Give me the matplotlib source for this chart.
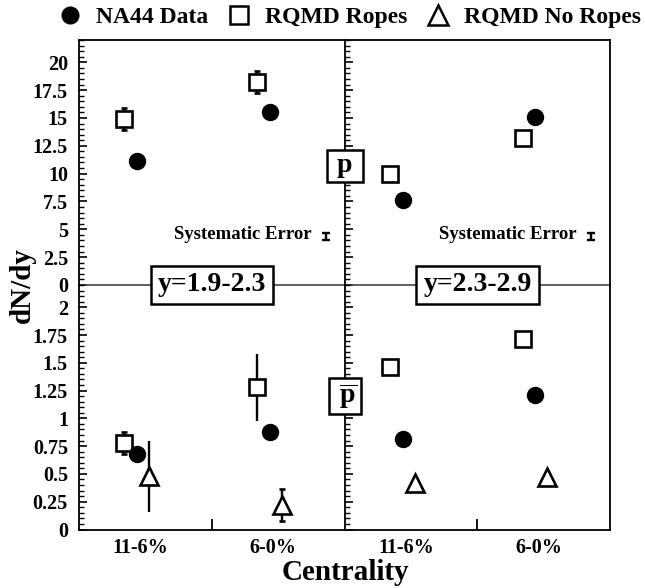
import matplotlib
matplotlib.use('Agg')
import matplotlib.pyplot as plt
from matplotlib.lines import Line2D
from matplotlib.ticker import MultipleLocator, FixedLocator, FuncFormatter

plt.rcParams['font.family'] = ['Liberation Serif', 'DejaVu Serif']
plt.rcParams['font.weight'] = 'bold'
plt.rcParams['mathtext.fontset'] = 'custom'
plt.rcParams['mathtext.bf'] = 'Liberation Serif:bold'
plt.rcParams['mathtext.rm'] = 'Liberation Serif:bold'

# ---------------- data ----------------
centrality = ['11-6%', '6-0%']
rapidity_bins = ['y=1.9-2.3', 'y=2.3-2.9']
species = [' p ', r' $\overline{\mathbf{p}}$ ']
legend_labels = ['NA44 Data', 'RQMD Ropes', 'RQMD No Ropes']

# protons  [rapidity bin][centrality]
p_na44 = [[11.1, 15.5], [7.6, 15.1]]
p_ropes = [[14.9, 18.2], [10.0, 13.2]]
p_ropes_err = [[0.95, 1.0], [0.0, 0.0]]
p_syst_err = 0.35

# antiprotons [rapidity bin][centrality]
pbar_na44 = [[0.68, 0.88], [0.81, 1.21]]
pbar_ropes = [[0.78, 1.28], [1.46, 1.71]]
pbar_ropes_err = [[0.10, 0.30], [0.0, 0.0]]
pbar_noropes = [[0.48, 0.22], [0.42, 0.47]]
pbar_noropes_err = [[0.32, 0.14], [0.0, 0.0]]

# ---------------- layout ----------------
W, H = 645, 588
L, M, R = 79, 345, 610
T, MID, B = 40, 285, 529.5

fig = plt.figure(figsize=(W / 100, H / 100), dpi=100)

cat_x = [0.87, 2.87]
label_x = [0.92, 2.92]
sq_off, tri_off = -0.19, 0.18
FS_TICK = 14.5

def make_ax(row, col):
    left = L if col == 0 else M
    right = M if col == 0 else R
    top = T if row == 0 else MID
    bottom = MID if row == 0 else B
    ax = fig.add_axes([left / W, 1 - bottom / H, (right - left) / W, (bottom - top) / H])
    ax.patch.set_alpha(0)
    ax.set_xlim(0, 4)
    for s in ax.spines.values():
        s.set_linewidth(1.3)
        s.set_color('black')
    if row == 0:
        ax.spines['bottom'].set_color('#444444')
        ax.spines['bottom'].set_linewidth(1.2)
    else:
        ax.spines['top'].set_visible(False)
    if col == 0:
        ax.spines['right'].set_visible(False)
    # y ticks
    if row == 0:
        ax.set_ylim(0, 22)
        ax.yaxis.set_major_locator(FixedLocator([i * 2.5 for i in range(9)]))
        ax.yaxis.set_minor_locator(MultipleLocator(0.5))
    else:
        ax.set_ylim(0, 2.2)
        ax.yaxis.set_major_locator(FixedLocator([i * 0.25 for i in range(9)]))
        ax.yaxis.set_minor_locator(MultipleLocator(0.05))
    ax.yaxis.set_major_formatter(FuncFormatter(lambda v, p: '%g' % v))
    ax.tick_params(axis='y', which='major', direction='in', length=6, width=1.2,
                   left=True, right=False, labelleft=(col == 0),
                   labelsize=FS_TICK, pad=8)
    ax.tick_params(axis='y', which='minor', direction='in', length=3.5, width=1.0,
                   left=True, right=False)
    # x ticks
    if row == 1:
        ax.set_xticks(label_x)
        ax.set_xticklabels(centrality, fontsize=FS_TICK, fontweight='bold')
        ax.tick_params(axis='x', which='major', length=0, pad=6)
        ax.xaxis.set_minor_locator(FixedLocator([2.0]))
        ax.tick_params(axis='x', which='minor', direction='in', length=8, width=1.3)
    else:
        ax.set_xticks([])
        ax.tick_params(axis='x', which='both', length=0)
    for lab in ax.get_yticklabels():
        lab.set_fontweight('bold')
    return ax

axs = [[make_ax(r, c) for c in range(2)] for r in range(2)]

def plot_err(ax, xs, ys, errs, marker, ms, ymax, filled=False):
    for x, y, e in zip(xs, ys, errs):
        cap = 2.5 if (e > 0 and e <= 0.1 * ymax) else 0
        ax.errorbar([x], [y], yerr=[e] if e > 0 else None, fmt=marker, ms=ms,
                    mfc='black' if filled else 'white', mec='black', mew=1.9,
                    ecolor='black', elinewidth=1.7, capsize=cap, capthick=1.7,
                    zorder=3, clip_on=False)

for col in range(2):
    # protons (top row)
    ax = axs[0][col]
    plot_err(ax, [x + sq_off for x in cat_x], p_ropes[col], p_ropes_err[col], 's', 12, 22)
    ax.plot(cat_x, p_na44[col], 'o', ms=11.5, color='black', zorder=4)
    ax.text(3.5, 4.55, 'Systematic Error', ha='right', va='center', fontsize=13.5,
            fontweight='bold')
    ax.errorbar([3.72], [4.35], yerr=[p_syst_err], fmt='none', ecolor='black',
                elinewidth=1.7, capsize=3, capthick=1.7)
    # antiprotons (bottom row)
    ax = axs[1][col]
    plot_err(ax, [x + sq_off for x in cat_x], pbar_ropes[col], pbar_ropes_err[col], 's', 12, 2.2)
    plot_err(ax, [x + tri_off for x in cat_x], pbar_noropes[col], pbar_noropes_err[col], '^', 13, 2.2)
    ax.plot(cat_x, pbar_na44[col], 'o', ms=11.5, color='black', zorder=4)

# boxed labels (figure-level so they sit above all axes)
box = dict(boxstyle='square,pad=0.25', fc='white', ec='black', lw=1.8)
box_sp = dict(boxstyle='square,pad=0.12', fc='white', ec='black', lw=1.8)
for col in range(2):
    fig.text(2.0, 0.0, rapidity_bins[col], transform=axs[0][col].transData,
             ha='center', va='center', fontsize=20, fontweight='bold', bbox=box, zorder=5)
fig.text(0.0, 10.7, species[0], transform=axs[0][1].transData,
         ha='center', va='center', fontsize=20, fontweight='bold', bbox=box_sp, zorder=5)
fig.text(0.0, 1.2, species[1], transform=axs[1][1].transData,
         ha='center', va='center', fontsize=20, fontweight='bold', bbox=box_sp, zorder=5)

# axis titles
fig.text(22 / W, 1 - 285 / H, 'dN/dy', rotation=90, ha='center', va='center',
         fontsize=21, fontweight='bold')
fig.text(345 / W, 1 - 572 / H, 'Centrality', ha='center', va='center',
         fontsize=21, fontweight='bold')

# legend
handles = [
    Line2D([], [], marker='o', ls='none', ms=12, color='black'),
    Line2D([], [], marker='s', ls='none', ms=13, mfc='white', mec='black', mew=1.8),
    Line2D([], [], marker='^', ls='none', ms=14, mfc='white', mec='black', mew=1.8),
]
fig.legend(handles, legend_labels, loc='center', bbox_to_anchor=(350 / W, 1 - 17 / H),
           ncol=3, frameon=False, prop={'size': 17, 'weight': 'bold'},
           handlelength=1.0, handletextpad=0.6, columnspacing=0.8, borderaxespad=0)

fig.savefig('out.png', dpi=100)
